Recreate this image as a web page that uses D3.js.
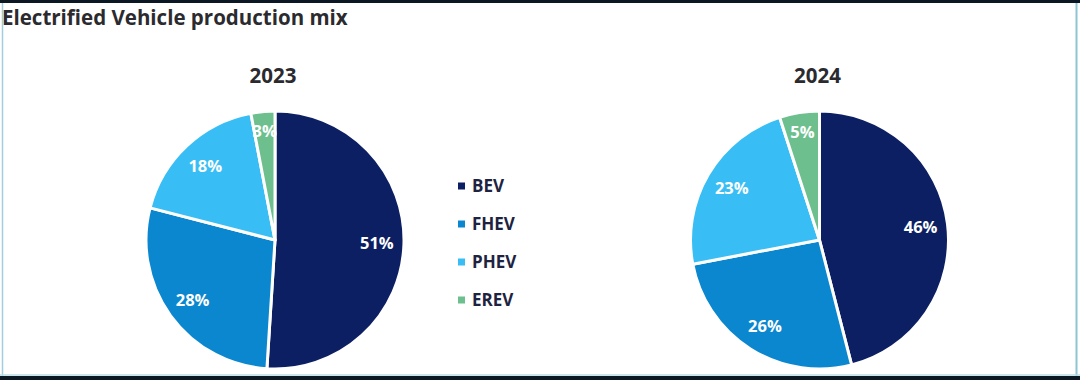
<!DOCTYPE html>
<html>
<head>
<meta charset="utf-8">
<script src="https://cdn.jsdelivr.net/npm/d3@7/dist/d3.min.js"></script>
<style>
html,body{margin:0;padding:0;background:#fff;}
svg{display:block;}
text{font-family:"Open Sans","Noto Sans",sans-serif;font-weight:700;}
</style>
</head>
<body>
<svg id="chart" width="1080" height="380"></svg>
<script>
const title = "Electrified Vehicle production mix";
const categories = ["BEV", "FHEV", "PHEV", "EREV"];
const years = ["2023", "2024"];
const values2023 = [51, 28, 18, 3];
const values2024 = [46, 26, 23, 5];
const colors = ["#0C1F63", "#0A87CF", "#38BEF5", "#6DBF8E"];

const W = 1080, H = 380;
const svg = d3.select("#chart");

// frame
svg.append("rect").attr("x",0).attr("y",0).attr("width",W).attr("height",H).attr("fill","#fff");
svg.append("rect").attr("x",0).attr("y",0).attr("width",W).attr("height",3).attr("fill","#0b1722");
svg.append("rect").attr("x",0).attr("y",376).attr("width",W).attr("height",4).attr("fill","#0b1722");
svg.append("line").attr("x1",2.5).attr("x2",2.5).attr("y1",3).attr("y2",376).attr("stroke","#9fcfdc").attr("stroke-width",1.5);
svg.append("line").attr("x1",1076.5).attr("x2",1076.5).attr("y1",3).attr("y2",376).attr("stroke","#8fc4d2").attr("stroke-width",2);
svg.append("line").attr("x1",0).attr("x2",W).attr("y1",375).attr("y2",375).attr("stroke","#b8dde6").attr("stroke-width",1.5);

svg.append("text").attr("x",2).attr("y",25).attr("font-size",20.5).attr("fill","#2b2b2f")
  .text(title);

const color = d3.scaleOrdinal().domain(categories).range(colors);
const R = 129;
const centers = [[275, 240], [819.5, 240]];
const datasets = [values2023, values2024];

const pie = d3.pie().sort(null).value(d => d.v);
const arc = d3.arc().innerRadius(0).outerRadius(R);
const labelArc = d3.arc().innerRadius(R*0.79).outerRadius(R*0.79);

datasets.forEach((vals, i) => {
  const [cx, cy] = centers[i];
  const g = svg.append("g").attr("transform", `translate(${cx},${cy})`);
  const data = categories.map((c, j) => ({c, v: vals[j]}));
  const arcs = pie(data);
  g.selectAll("path").data(arcs).join("path")
    .attr("d", arc)
    .attr("fill", d => color(d.data.c))
    .attr("stroke", "#fff").attr("stroke-width", 3).attr("stroke-linejoin","round");
  g.selectAll("text.lbl").data(arcs).join("text").attr("class","lbl")
    .attr("transform", d => {
      const [x, y] = labelArc.centroid(d);
      const extra = d.data.v < 8 ? 1.07 : 1;
      return `translate(${x*extra},${y*extra})`;
    })
    .attr("text-anchor","middle").attr("dy","0.36em")
    .attr("font-size",16.5).attr("fill","#fff")
    .text(d => d.data.v + "%");
  svg.append("text").attr("x", cx - 2).attr("y", 83)
    .attr("text-anchor","middle").attr("font-size",20.5).attr("fill","#2b2b2f")
    .text(years[i]);
});

// legend
const legend = svg.append("g");
const ly = d3.scalePoint().domain(categories).range([186, 300]);
categories.forEach(c => {
  legend.append("rect").attr("x",458).attr("y",ly(c)-3.5).attr("width",7).attr("height",7).attr("fill",color(c));
  legend.append("text").attr("x",472).attr("y",ly(c)).attr("dy","0.36em")
    .attr("font-size",17).attr("fill","#1d2340").text(c);
});
</script>
</body>
</html>
